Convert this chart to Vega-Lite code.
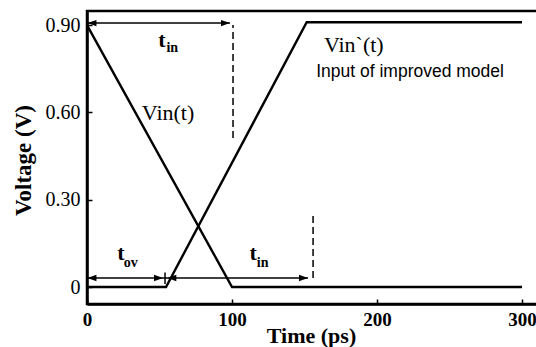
{
  "$schema": "https://vega.github.io/schema/vega-lite/v6.json",
  "autosize": "none",
  "width": 452,
  "height": 293,
  "padding": {"left": 87, "top": 11, "right": 0, "bottom": 43},
  "background": "white",
  "view": {"stroke": "black", "strokeWidth": 2.5},
  "config": {
    "axis": {"grid": false, "domainColor": "black", "domainWidth": 2.5, "tickColor": "black", "tickWidth": 1.5, "labelColor": "black", "titleColor": "black", "labelFont": "Liberation Serif", "titleFont": "Liberation Serif"}
  },
  "datasets": {
    "curves": [
      {"series": "Vin", "t": 0, "v": 0.9},
      {"series": "Vin", "t": 100, "v": 0},
      {"series": "Vin", "t": 300, "v": 0},
      {"series": "Vin2", "t": 0, "v": 0},
      {"series": "Vin2", "t": 54.5, "v": 0},
      {"series": "Vin2", "t": 151.5, "v": 0.91},
      {"series": "Vin2", "t": 300, "v": 0.91}
    ],
    "rules": [
      {"kind": "solid", "x": 0, "x2": 98.6, "y": 0.907, "y2": 0.907},
      {"kind": "solid", "x": 0, "x2": 152.4, "y": 0.031, "y2": 0.031},
      {"kind": "solid", "x": 53.8, "x2": 53.8, "y": 0.01, "y2": 0.05},
      {"kind": "dashed", "x": 100.7, "x2": 100.7, "y": 0.512, "y2": 0.9},
      {"kind": "dashed", "x": 155.9, "x2": 155.9, "y": 0.031, "y2": 0.247}
    ],
    "heads": [
      {"dir": "left", "x": 0.3, "y": 0.907},
      {"dir": "right", "x": 98.6, "y": 0.907},
      {"dir": "left", "x": 0.3, "y": 0.031},
      {"dir": "right", "x": 52.4, "y": 0.031},
      {"dir": "left", "x": 55.4, "y": 0.031},
      {"dir": "right", "x": 152.4, "y": 0.031}
    ],
    "labels": [
      {"kind": "serif", "text": "Vin(t)", "x": 55.9, "y": 0.598},
      {"kind": "serif", "text": "Vin`(t)", "x": 184, "y": 0.831},
      {"kind": "sans", "text": "Input of improved model", "x": 222.8, "y": 0.738},
      {"kind": "t", "text": "t", "x": 51.7, "y": 0.848},
      {"kind": "sub", "text": "in", "x": 58.8, "y": 0.822},
      {"kind": "t", "text": "t", "x": 23.4, "y": 0.117},
      {"kind": "sub", "text": "ov", "x": 30.1, "y": 0.084},
      {"kind": "t", "text": "t", "x": 114.5, "y": 0.117},
      {"kind": "sub", "text": "in", "x": 121.1, "y": 0.084}
    ]
  },
  "layer": [
    {
      "data": {"name": "curves"},
      "mark": {"type": "line", "color": "black", "strokeWidth": 2.4, "clip": false},
      "encoding": {
        "x": {"field": "t", "type": "quantitative", "scale": {"domain": [0, 311.7], "nice": false, "zero": false},
          "axis": {"values": [0, 100, 200, 300], "labelFontWeight": "bold", "labelFontSize": 19, "tickSize": -5, "labelPadding": 11, "title": "Time (ps)", "titleFontSize": 22, "titleFontWeight": "bold", "titleX": 224, "titleY": 38, "titleAlign": "center", "titleBaseline": "alphabetic", "labelFlush": false}},
        "y": {"field": "v", "type": "quantitative", "scale": {"domain": [-0.0584, 0.9485], "nice": false, "zero": false},
          "axis": {"values": [0, 0.3, 0.6, 0.9], "labelExpr": "datum.value == 0 ? '0' : format(datum.value, '.2f')", "labelFontSize": 20, "labelFontWeight": "normal", "tickSize": -5, "labelPadding": 12, "title": "Voltage (V)", "titleFontSize": 23, "titleFontWeight": "bold", "titleX": -64, "titleY": 149, "titleAngle": -90, "titleAlign": "center", "titleBaseline": "middle", "labelFlush": false}},
        "detail": {"field": "series"}
      }
    },
    {
      "data": {"name": "rules"},
      "transform": [{"filter": "datum.kind == 'solid'"}],
      "mark": {"type": "rule", "color": "black", "strokeWidth": 1.5},
      "encoding": {
        "x": {"field": "x", "type": "quantitative"},
        "x2": {"field": "x2"},
        "y": {"field": "y", "type": "quantitative"},
        "y2": {"field": "y2"}
      }
    },
    {
      "data": {"name": "rules"},
      "transform": [{"filter": "datum.kind == 'dashed'"}],
      "mark": {"type": "rule", "color": "black", "strokeWidth": 1.5, "strokeDash": [7, 4]},
      "encoding": {
        "x": {"field": "x", "type": "quantitative"},
        "x2": {"field": "x2"},
        "y": {"field": "y", "type": "quantitative"},
        "y2": {"field": "y2"}
      }
    },
    {
      "data": {"name": "heads"},
      "transform": [{"filter": "datum.dir == 'right'"}],
      "mark": {"type": "point", "filled": true, "color": "black", "opacity": 1, "size": 81, "shape": "M0,0L-2,-0.7L-2,0.7Z"},
      "encoding": {
        "x": {"field": "x", "type": "quantitative"},
        "y": {"field": "y", "type": "quantitative"}
      }
    },
    {
      "data": {"name": "heads"},
      "transform": [{"filter": "datum.dir == 'left'"}],
      "mark": {"type": "point", "filled": true, "color": "black", "opacity": 1, "size": 81, "shape": "M0,0L2,-0.7L2,0.7Z"},
      "encoding": {
        "x": {"field": "x", "type": "quantitative"},
        "y": {"field": "y", "type": "quantitative"}
      }
    },
    {
      "data": {"name": "labels"},
      "transform": [{"filter": "datum.kind == 'serif'"}],
      "mark": {"type": "text", "font": "Liberation Serif", "fontSize": 22, "color": "black", "align": "center", "baseline": "middle"},
      "encoding": {
        "x": {"field": "x", "type": "quantitative"},
        "y": {"field": "y", "type": "quantitative"},
        "text": {"field": "text"}
      }
    },
    {
      "data": {"name": "labels"},
      "transform": [{"filter": "datum.kind == 'sans'"}],
      "mark": {"type": "text", "font": "Liberation Sans", "fontSize": 17.5, "color": "black", "align": "center", "baseline": "middle"},
      "encoding": {
        "x": {"field": "x", "type": "quantitative"},
        "y": {"field": "y", "type": "quantitative"},
        "text": {"field": "text"}
      }
    },
    {
      "data": {"name": "labels"},
      "transform": [{"filter": "datum.kind == 't'"}],
      "mark": {"type": "text", "font": "Liberation Serif", "fontSize": 22, "fontWeight": "bold", "color": "black", "align": "center", "baseline": "middle"},
      "encoding": {
        "x": {"field": "x", "type": "quantitative"},
        "y": {"field": "y", "type": "quantitative"},
        "text": {"field": "text"}
      }
    },
    {
      "data": {"name": "labels"},
      "transform": [{"filter": "datum.kind == 'sub'"}],
      "mark": {"type": "text", "font": "Liberation Serif", "fontSize": 14, "fontWeight": "bold", "color": "black", "align": "center", "baseline": "middle"},
      "encoding": {
        "x": {"field": "x", "type": "quantitative"},
        "y": {"field": "y", "type": "quantitative"},
        "text": {"field": "text"}
      }
    }
  ]
}
